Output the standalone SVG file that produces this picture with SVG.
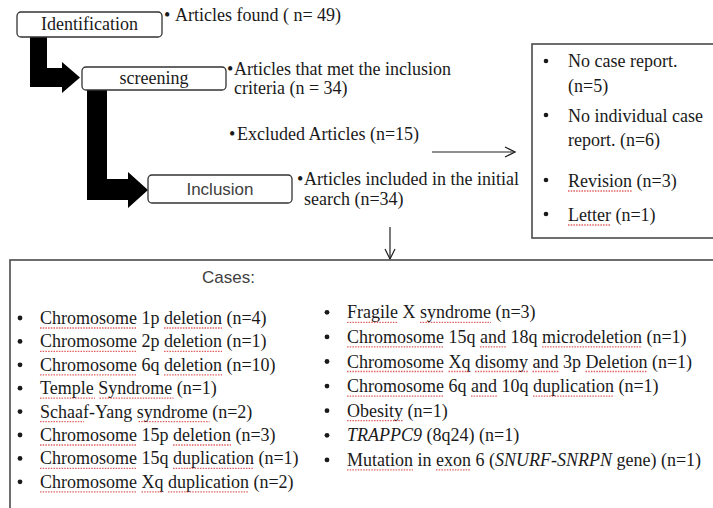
<svg xmlns="http://www.w3.org/2000/svg" width="713" height="508" viewBox="0 0 713 508">
<defs>
<style>
.t{font-family:"Liberation Serif","Times New Roman",serif;font-size:18px;fill:#1a1a1a}
.s{font-family:"Liberation Sans",Arial,sans-serif;font-size:17px;fill:#404040}
.node{fill:#fff;stroke:#333;stroke-width:1.3}
.box{fill:#fff;stroke:#4a4a4a;stroke-width:1.6}
.big{fill:#000}
.thin{stroke:#222;stroke-width:1.2;fill:none}
.sq{stroke:#d83a3a;stroke-width:1.3;stroke-dasharray:1.5 1.2;fill:none;opacity:.8}
.b{fill:#1a1a1a}
</style>
<marker id="ah" viewBox="0 0 12 12" refX="11" refY="6" markerWidth="12" markerHeight="12" markerUnits="userSpaceOnUse" orient="auto">
<path d="M1,1 L11,6 L1,11" fill="none" stroke="#222" stroke-width="1.2"/>
</marker>
</defs>
<rect width="713" height="508" fill="#fff"/>

<g id="connectors">
<path class="big" d="M30,37 H47 V68 H62 V62 L80,77.5 L62,93 V87 H30 Z"/>
<path class="big" d="M87,90 H107 V179 H128 V172 L148,190 L128,208 V200 H87 Z"/>
<line class="thin" x1="432" y1="152" x2="515" y2="152" marker-end="url(#ah)"/>
<line class="thin" x1="390" y1="227" x2="390" y2="259" marker-end="url(#ah)"/>
</g>

<g id="identification">
<rect class="node" x="17" y="12" width="145" height="25" rx="4"/>
<text class="t" x="89.5" y="30" text-anchor="middle">Identification</text>
</g>
<g id="identification-note">
<text class="t" x="164" y="21">•</text>
<text class="t" x="175" y="21">Articles found ( n= 49)</text>
</g>

<g id="screening">
<rect class="node" x="82" y="67" width="144" height="23" rx="4"/>
<text class="t" x="154" y="83.5" text-anchor="middle">screening</text>
</g>
<g id="screening-note">
<text class="t" x="227" y="75">•</text>
<text class="t" x="234" y="75">Articles that met the inclusion</text>
<text class="t" x="234" y="94">criteria (n = 34)</text>
</g>

<g id="excluded-note">
<text class="t" x="229" y="140">•</text>
<text class="t" x="237" y="140">Excluded Articles (n=15)</text>
</g>

<g id="inclusion">
<rect class="node" x="148" y="175" width="144" height="28" rx="4"/>
<text class="s" x="220" y="195" text-anchor="middle">Inclusion</text>
</g>
<g id="inclusion-note">
<text class="t" x="297" y="185">•</text>
<text class="t" x="304" y="185">Articles included in the initial</text>
<text class="t" x="304" y="205">search (n=34)</text>
</g>

<g id="excluded-box">
<rect class="box" x="532" y="44" width="200" height="194"/>
<circle class="b" cx="546" cy="61" r="2.3"/>
<text class="t" x="568" y="67">No case report.</text>
<text class="t" x="568" y="92">(n=5)</text>
<circle class="b" cx="546" cy="115" r="2.3"/>
<text class="t" x="568" y="122">No individual case</text>
<text class="t" x="568" y="146">report. (n=6)</text>
<circle class="b" cx="546" cy="180" r="2.3"/>
<text class="t" x="568" y="187">Revision (n=3)</text>
<circle class="b" cx="546" cy="214" r="2.3"/>
<text class="t" x="568" y="221">Letter (n=1)</text>
<path class="sq" d="M568,191 H632 M568,225 H611"/>
</g>

<g id="cases-box">
<rect class="box" x="10" y="260" width="720" height="260"/>
<text class="s" x="202" y="283">Cases:</text>
<g>
<circle class="b" cx="20" cy="318" r="2.4"/>
<circle class="b" cx="20" cy="341.4" r="2.4"/>
<circle class="b" cx="20" cy="364.8" r="2.4"/>
<circle class="b" cx="20" cy="388.2" r="2.4"/>
<circle class="b" cx="20" cy="411.6" r="2.4"/>
<circle class="b" cx="20" cy="435" r="2.4"/>
<circle class="b" cx="20" cy="458.4" r="2.4"/>
<circle class="b" cx="20" cy="481.8" r="2.4"/>
<text class="t" x="40" y="324">Chromosome 1p deletion (n=4)</text>
<text class="t" x="40" y="347.4">Chromosome 2p deletion (n=1)</text>
<text class="t" x="40" y="370.8">Chromosome 6q deletion (n=10)</text>
<text class="t" x="40" y="394.2">Temple Syndrome (n=1)</text>
<text class="t" x="40" y="417.6">Schaaf-Yang syndrome (n=2)</text>
<text class="t" x="40" y="441">Chromosome 15p deletion (n=3)</text>
<text class="t" x="40" y="464.4">Chromosome 15q duplication (n=1)</text>
<text class="t" x="40" y="487.8">Chromosome Xq duplication (n=2)</text>
<path class="sq" d="M40,328 H137 M164,328 H222 M40,351.4 H137 M164,351.4 H222 M40,374.8 H137 M164,374.8 H222 M40,398.2 H95 M99.5,398.2 H173.5 M40,421.6 H84 M138.5,421.6 H209.5 M40,445 H137 M173,445 H231 M40,468.4 H137 M173,468.4 H254 M40,491.8 H137 M141.5,491.8 H163.5 M168,491.8 H249"/>
</g>
<g>
<circle class="b" cx="327" cy="312.3" r="2.4"/>
<circle class="b" cx="327" cy="336.9" r="2.4"/>
<circle class="b" cx="327" cy="361.5" r="2.4"/>
<circle class="b" cx="327" cy="386.1" r="2.4"/>
<circle class="b" cx="327" cy="410.7" r="2.4"/>
<circle class="b" cx="327" cy="435.3" r="2.4"/>
<circle class="b" cx="327" cy="459.9" r="2.4"/>
<text class="t" x="347" y="318.3">Fragile X syndrome (n=3)</text>
<text class="t" x="347" y="342.9">Chromosome 15q and 18q microdeletion (n=1)</text>
<text class="t" x="347" y="367.5">Chromosome Xq disomy and 3p Deletion (n=1)</text>
<text class="t" x="347" y="392.1">Chromosome 6q and 10q duplication (n=1)</text>
<text class="t" x="347" y="416.7">Obesity (n=1)</text>
<text class="t" x="347" y="441.3"><tspan font-style="italic">TRAPPC9</tspan> (8q24) (n=1)</text>
<text class="t" x="347" y="465.9">Mutation in exon 6 (<tspan font-style="italic">SNURF-SNRPN</tspan> gene) (n=1)</text>
<path class="sq" d="M347,322.3 H398 M420,322.3 H491 M347,346.9 H444 M480,346.9 H506 M542,346.9 H642 M347,371.5 H444 M448.5,371.5 H470.5 M475,371.5 H528 M532.5,371.5 H558.5 M585.5,371.5 H647.5 M347,396.1 H444 M471,396.1 H497 M533,396.1 H614 M347,420.7 H403 M347,469.9 H413 M436,469.9 H471"/>
</g>
</g>
</svg>
